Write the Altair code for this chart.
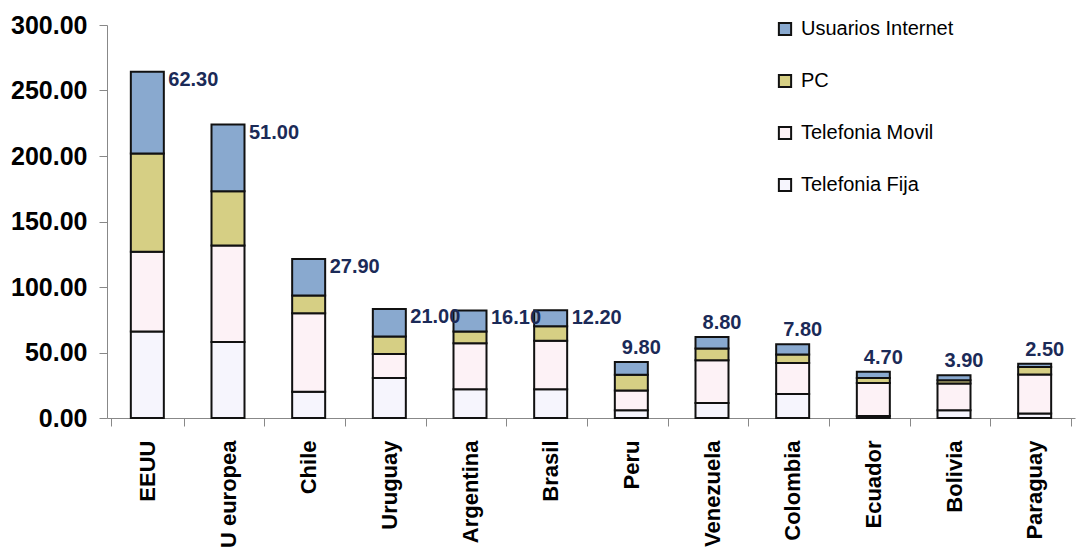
import altair as alt
import pandas as pd

countries = ["EEUU", "U europea", "Chile", "Uruguay", "Argentina", "Brasil",
             "Peru", "Venezuela", "Colombia", "Ecuador", "Bolivia", "Paraguay"]
fija = [66, 58, 20, 30.5, 22, 22, 6, 11.5, 18.4, 1.5, 6, 3.5]
movil = [61, 73.7, 60, 18.4, 35, 37, 15, 32.5, 23.6, 25.3, 20.3, 29.7]
pc = [75, 41.3, 13.5, 13.4, 9, 11, 12, 9, 6.5, 3.8, 2.5, 5.8]
internet = [62.3, 51, 27.9, 21, 16.1, 12.2, 9.8, 8.8, 7.8, 4.7, 3.9, 2.5]

series_names = ["Telefonia Fija", "Telefonia Movil", "PC", "Usuarios Internet"]
legend_order = ["Usuarios Internet", "PC", "Telefonia Movil", "Telefonia Fija"]
legend_colors = ["#89a9cf", "#d6cf84", "#fdf2f6", "#f6f5fd"]
y_ticks = [0, 50, 100, 150, 200, 250, 300]

rows = []
for i, c in enumerate(countries):
    for o, (s, vals) in enumerate(zip(series_names, [fija, movil, pc, internet])):
        rows.append({"country": c, "serie": s, "value": vals[i], "orden": o})
df = pd.DataFrame(rows)

totals = [f + m + p + n for f, m, p, n in zip(fija, movil, pc, internet)]
labels_df = pd.DataFrame({
    "country": countries,
    "total": totals,
    "label": [f"{v:.2f}" for v in internet],
})

FONT = "Liberation Sans"

x_enc = alt.X("country:N", sort=countries, axis=alt.Axis(
    title=None, labelAngle=-90, labelFont=FONT, labelFontSize=22,
    labelFontWeight="bold", labelColor="black", tickBand="extent",
    tickSize=8, domainColor="#888888", tickColor="#888888",
    labelPadding=14, labelAlign="right", labelBaseline="middle"))

bars = alt.Chart(df).mark_bar(stroke="#111111", strokeWidth=2, size=33).encode(
    x=x_enc,
    y=alt.Y("value:Q", stack="zero",
            scale=alt.Scale(domain=[0, 300], nice=False),
            axis=alt.Axis(title=None, values=y_ticks, format=".2f", grid=False,
                          labelFont=FONT, labelFontSize=25, labelFontWeight="bold",
                          labelColor="black", tickSize=8, labelPadding=12,
                          domainColor="#888888", tickColor="#888888")),
    color=alt.Color("serie:N",
                    scale=alt.Scale(domain=legend_order, range=legend_colors),
                    legend=alt.Legend(title=None, orient="none", legendX=668, legendY=-6,
                                      symbolType="square", symbolSize=150,
                                      symbolStrokeColor="#111111", symbolStrokeWidth=2,
                                      labelFont=FONT, labelFontSize=20, labelColor="black",
                                      rowPadding=30, labelOffset=6)),
    order=alt.Order("orden:Q", sort="ascending"),
)

text_style = dict(fontSize=20, fontWeight="bold", color="#1b2a57", font=FONT)
text_enc = dict(
    x=alt.X("country:N", sort=countries),
    y=alt.Y("total:Q"),
    text="label:N",
)

# tall bars: label to the right of the bar top; short bars: label just above
texts_tall = alt.Chart(labels_df).transform_filter("datum.total >= 80").mark_text(
    dx=46, dy=8, **text_style).encode(**text_enc)
texts_short = alt.Chart(labels_df).transform_filter("datum.total < 80").mark_text(
    dx=10, dy=-14, **text_style).encode(**text_enc)

chart = alt.layer(bars, texts_tall, texts_short).properties(
    width=968, height=393,
    padding={"left": 107, "top": 25, "right": 7, "bottom": 138},
    autosize="none",
).configure_view(stroke=None)

chart.save("out.html", embed_options={"renderer": "svg", "actions": False})
